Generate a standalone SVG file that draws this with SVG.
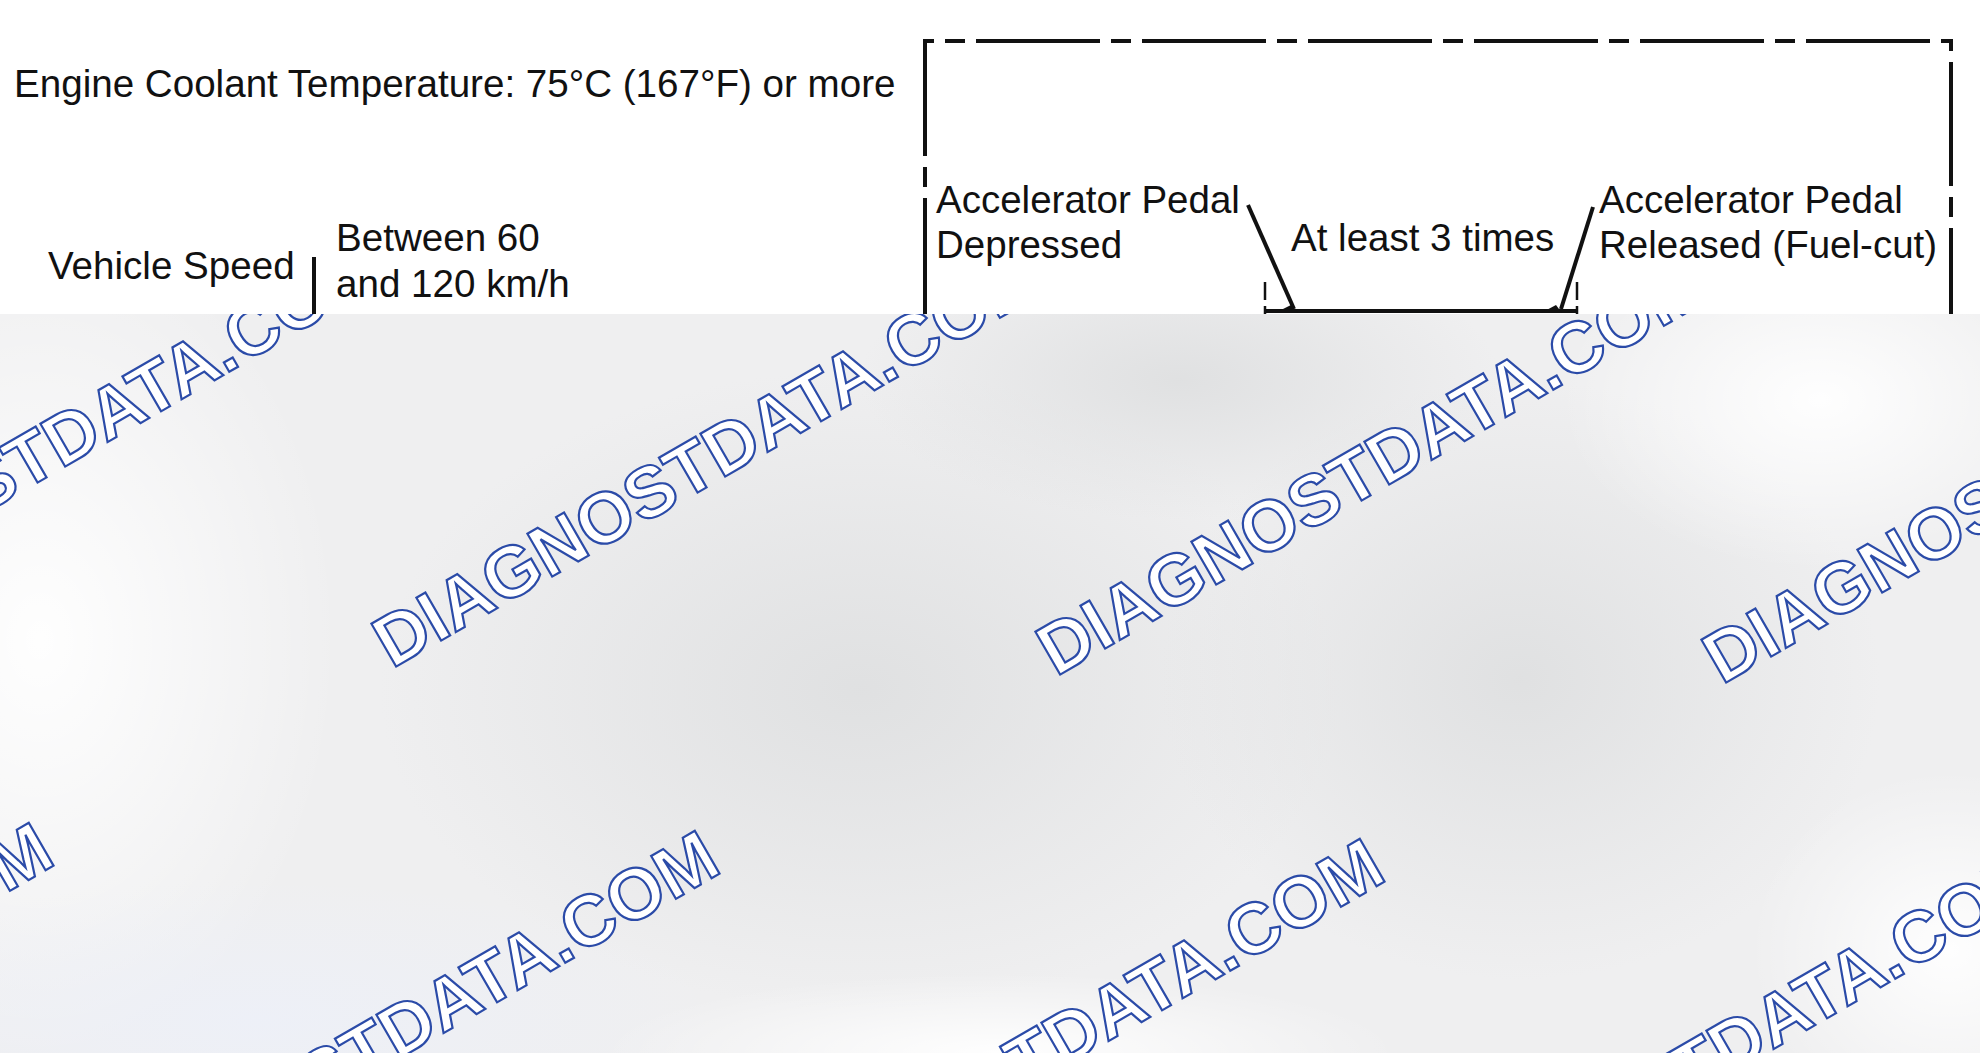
<svg xmlns="http://www.w3.org/2000/svg" width="1980" height="1053" viewBox="0 0 1980 1053">
<defs>
<style>
.t { font-family: "Liberation Sans", Arial, Helvetica, sans-serif; font-size: 38.6px; fill: #111; }
.b { font-size: 38.5px; }
.wm { font-family: "Liberation Sans", Arial, Helvetica, sans-serif; font-weight: bold; font-size: 72px; fill: #ffffff; stroke: #2b4ba8; stroke-width: 2.2; }
.ln { stroke: #111; stroke-width: 4; fill: none; }
.tk { stroke: #111; stroke-width: 2.5; fill: none; }
</style>
<radialGradient id="dk">
<stop offset="0" stop-color="#dedfe0" stop-opacity="0.9"/>
<stop offset="1" stop-color="#dedfe0" stop-opacity="0"/>
</radialGradient>
<radialGradient id="lt">
<stop offset="0" stop-color="#ffffff" stop-opacity="0.95"/>
<stop offset="1" stop-color="#ffffff" stop-opacity="0"/>
</radialGradient>
<radialGradient id="bl">
<stop offset="0" stop-color="#edf0f8" stop-opacity="0.9"/>
<stop offset="1" stop-color="#edf0f8" stop-opacity="0"/>
</radialGradient>
<clipPath id="lower"><rect x="0" y="314" width="1980" height="739"/></clipPath>
</defs>
<rect x="0" y="0" width="1980" height="1053" fill="#ffffff"/>
<g id="overlay" clip-path="url(#lower)">
<rect x="0" y="314" width="1980" height="739" fill="#efeff0"/>
<ellipse cx="860" cy="690" rx="480" ry="320" fill="url(#dk)"/>
<ellipse cx="1520" cy="680" rx="360" ry="300" fill="url(#dk)"/>
<ellipse cx="1180" cy="380" rx="320" ry="140" fill="url(#dk)"/>
<ellipse cx="40" cy="640" rx="300" ry="420" fill="url(#lt)"/>
<ellipse cx="1820" cy="400" rx="260" ry="170" fill="url(#lt)"/>
<ellipse cx="1950" cy="950" rx="200" ry="180" fill="url(#lt)"/>
<ellipse cx="260" cy="1020" rx="460" ry="140" fill="url(#bl)"/>
<ellipse cx="1000" cy="1053" rx="400" ry="80" fill="url(#lt)"/>
<g id="watermark">
<text class="wm" x="-268" y="659" transform="rotate(-30 -268 659)">DIAGNOSTDATA.COM</text>
<text class="wm" x="392" y="669" transform="rotate(-30 392 669)">DIAGNOSTDATA.COM</text>
<text class="wm" x="1056" y="677" transform="rotate(-30 1056 677)">DIAGNOSTDATA.COM</text>
<text class="wm" x="1722" y="685" transform="rotate(-30 1722 685)">DIAGNOSTDATA.COM</text>
<text class="wm" x="-598" y="1242" transform="rotate(-30 -598 1242)">DIAGNOSTDATA.COM</text>
<text class="wm" x="68" y="1250" transform="rotate(-30 68 1250)">DIAGNOSTDATA.COM</text>
<text class="wm" x="733" y="1258" transform="rotate(-30 733 1258)">DIAGNOSTDATA.COM</text>
<text class="wm" x="1398" y="1266" transform="rotate(-30 1398 1266)">DIAGNOSTDATA.COM</text>
</g>
</g>
<g id="coolant">
<text class="t" x="14" y="97" font-size="38.8">Engine Coolant Temperature: 75°C (167°F) or more</text>
</g>
<g id="vehicle-speed">
<text class="t" x="48" y="279">Vehicle Speed</text>
<text class="t" x="336" y="251">Between 60</text>
<text class="t" x="336" y="297">and 120 km/h</text>
</g>
<g id="pedal-depressed">
<text class="t b" x="936" y="213">Accelerator Pedal</text>
<text class="t b" x="936" y="258">Depressed</text>
</g>
<g id="times">
<text class="t b" x="1291" y="251">At least 3 times</text>
</g>
<g id="pedal-released">
<text class="t b" x="1599" y="213">Accelerator Pedal</text>
<text class="t b" x="1599" y="258">Released (Fuel-cut)</text>
</g>
<g id="connectors">
<line class="ln" x1="314" y1="257" x2="314" y2="314" stroke-width="3.5"/>
<path class="ln" d="M925,314 V41 H1951 V314" stroke-dasharray="124 11 20 11" stroke-dashoffset="8"/>
<line class="ln" x1="1248" y1="205" x2="1294" y2="309"/>
<line class="ln" x1="1593" y1="207" x2="1561" y2="309"/>
<line class="ln" x1="1265" y1="311" x2="1577" y2="311" stroke-width="5"/>
<polygon points="1275,313 1291,305 1298,313" fill="#111"/>
<polygon points="1541,313 1556,305 1562,313" fill="#111"/>
<line class="tk" x1="1265" y1="282" x2="1265" y2="300"/>
<line class="tk" x1="1265" y1="306" x2="1265" y2="314"/>
<line class="tk" x1="1577" y1="282" x2="1577" y2="300"/>
<line class="tk" x1="1577" y1="306" x2="1577" y2="314"/>
</g>
</svg>
